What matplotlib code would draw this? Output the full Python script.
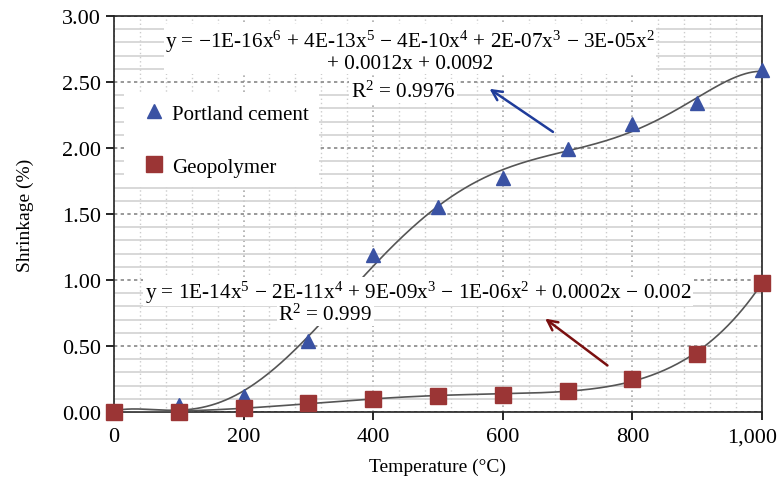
import numpy as np
import matplotlib
matplotlib.use("Agg")
import matplotlib.pyplot as plt
from matplotlib.ticker import MultipleLocator, FuncFormatter

plt.rcParams['font.family'] = ['Liberation Serif', 'DejaVu Serif']
plt.rcParams['mathtext.fontset'] = 'custom'
plt.rcParams['mathtext.rm'] = 'Liberation Serif'
plt.rcParams['mathtext.it'] = 'Liberation Serif:italic'

# data
temperature = [0, 100, 200, 300, 400, 500, 600, 700, 800, 900, 1000]
portland = [0.0, 0.05, 0.12, 0.54, 1.19, 1.55, 1.77, 1.99, 2.18, 2.34, 2.59]
geopolymer = [0.0, 0.0, 0.03, 0.07, 0.10, 0.12, 0.13, 0.16, 0.25, 0.44, 0.98]

eq_portland = ("y = −1E-16x$^{6}$ + 4E-13x$^{5}$ − 4E-10x$^{4}$ + 2E-07x$^{3}$ − 3E-05x$^{2}$\n"
               "+ 0.0012x + 0.0092")
r2_portland = "R$^{2}$ = 0.9976"
eq_geo = "y = 1E-14x$^{5}$ − 2E-11x$^{4}$ + 9E-09x$^{3}$ − 1E-06x$^{2}$ + 0.0002x − 0.002"
r2_geo = "R$^{2}$ = 0.999"

blue = '#3A52A3'
red = '#9B3535'

fig = plt.figure(figsize=(7.79, 4.81), dpi=100)
ax = fig.add_axes([0.1463, 0.1414, 0.8318, 0.8233])

x = np.array(temperature, dtype=float)
xs = np.linspace(0, 1000, 400)
fit_p = np.polyfit(x, portland, 6)
fit_g = np.polyfit(x, geopolymer, 5)
ax.plot(xs, np.polyval(fit_p, xs), color='#555555', lw=1.2, zorder=3)
ax.plot(xs, np.polyval(fit_g, xs), color='#555555', lw=1.2, zorder=3)

ax.plot(temperature, portland, '^', color=blue, ms=10, ls='none', label='Portland cement',
        zorder=4, clip_on=False)
ax.plot(temperature, geopolymer, 's', color=red, ms=11, ls='none', label='Geopolymer',
        zorder=5, clip_on=False)

ax.set_xlim(0, 1000)
ax.set_ylim(0, 3)
ax.xaxis.set_major_locator(MultipleLocator(200))
ax.xaxis.set_minor_locator(MultipleLocator(40))
ax.yaxis.set_major_locator(MultipleLocator(0.5))
ax.yaxis.set_minor_locator(MultipleLocator(0.1))
# 1,000 is written separately below, nudged left so it fits in the picture
ax.xaxis.set_major_formatter(FuncFormatter(lambda v, p: "" if v >= 1000 else f"{v:,.0f}"))
ax.yaxis.set_major_formatter(FuncFormatter(lambda v, p: f"{v:.2f}"))
ax.tick_params(which='major', direction='out', length=6, width=1.2, labelsize=16)
ax.tick_params(which='minor', length=0)
ax.tick_params(axis='x', pad=5)
ax.annotate('1,000', xy=(1000, 0), xycoords='data', xytext=(-7, -11), textcoords='offset points',
            ha='center', va='top', fontsize=16, annotation_clip=False)

ax.grid(which='major', axis='y', color='#888888', ls=(0, (2, 2)), lw=1.2)
ax.grid(which='minor', axis='y', color='#d2d2d2', ls='-', lw=1.2)
ax.grid(which='major', axis='x', color='#aaaaaa', ls=(0, (1, 2)), lw=1.2)
ax.grid(which='minor', axis='x', color='#cccccc', ls=(0, (1, 2)), lw=1.0)
ax.set_axisbelow(True)
for s in ax.spines.values():
    s.set_color('#222222')
    s.set_linewidth(1.2)

ax.set_xlabel('Temperature (°C)', fontsize=14, labelpad=8)
ax.set_ylabel('Shrinkage (%)', fontsize=14, labelpad=20)

leg = ax.legend(loc='upper left', bbox_to_anchor=(0.0, 0.83), fontsize=15, frameon=True,
                framealpha=1, edgecolor='none', labelspacing=1.6, handletextpad=0.0,
                borderpad=0.5, handlelength=1.8)
leg.get_frame().set_boxstyle('square', pad=0)

box = dict(facecolor='white', edgecolor='none', pad=1)
ax.text(457, 2.74, eq_portland, ha='center', va='center', fontsize=15.3, linespacing=1.0, bbox=box, zorder=6)
ax.text(446, 2.43, r2_portland, ha='center', va='center', fontsize=15.3, bbox=box, zorder=6)
ax.text(469, 0.91, eq_geo, ha='center', va='center', fontsize=15.3, bbox=box, zorder=6)
ax.text(326, 0.74, r2_geo, ha='center', va='center', fontsize=15.3, bbox=box, zorder=6)

ax.annotate('', xy=(576, 2.46), xytext=(681, 2.11),
            arrowprops=dict(arrowstyle='->', color='#1F3C9A', lw=1.8, mutation_scale=18), zorder=7)
ax.annotate('', xy=(662, 0.72), xytext=(765, 0.34),
            arrowprops=dict(arrowstyle='->', color='#7A0F0F', lw=1.8, mutation_scale=18), zorder=7)

fig.savefig('out.png', dpi=100)
